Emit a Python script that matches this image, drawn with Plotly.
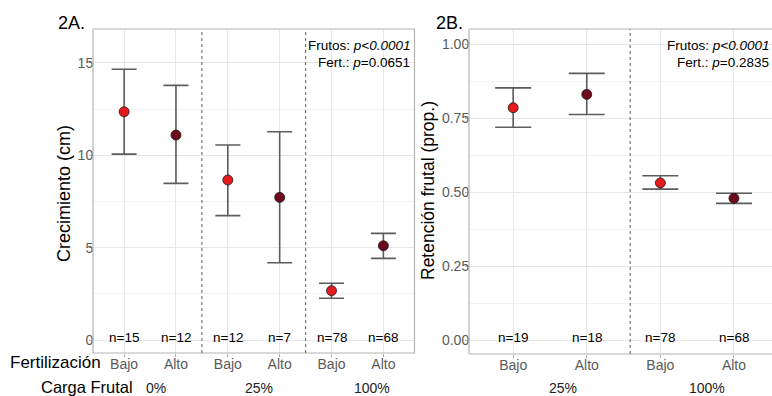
import plotly.graph_objects as go

# ---------------- data ----------------
# Panel 2A: Crecimiento (cm)
fert_A = ["Bajo", "Alto", "Bajo", "Alto", "Bajo", "Alto"]
carga_A = ["0%", "0%", "25%", "25%", "100%", "100%"]
mean_A = [12.35, 11.09, 8.66, 7.72, 2.67, 5.10]
upper_A = [14.65, 13.78, 10.55, 11.27, 3.07, 5.77]
lower_A = [10.06, 8.48, 6.73, 4.18, 2.26, 4.42]
n_A = [15, 12, 12, 7, 78, 68]
yticks_A = [0, 5, 10, 15]
yticklabels_A = ["0", "5", "10", "15"]

# Panel 2B: Retención frutal (prop.)
fert_B = ["Bajo", "Alto", "Bajo", "Alto"]
carga_B = ["25%", "25%", "100%", "100%"]
mean_B = [0.785, 0.830, 0.531, 0.479]
upper_B = [0.852, 0.901, 0.555, 0.496]
lower_B = [0.719, 0.762, 0.510, 0.462]
n_B = [19, 18, 78, 68]
yticks_B = [0, 0.25, 0.5, 0.75, 1.0]
yticklabels_B = ["0.00", "0.25", "0.50", "0.75", "1.00"]

colors = {"Bajo": "#E41A1C", "Alto": "#6E0A1E"}
FONT = "Liberation Sans, Arial, Helvetica, sans-serif"
W, H = 772, 396


def px(x):
    return x / W


def py(y):
    return 1 - y / H


fig = go.Figure()


def add_panel(fert, mean, upper, lower, xa, ya, capw):
    pos = list(range(1, len(fert) + 1))
    for level in ["Bajo", "Alto"]:
        idx = [i for i, f in enumerate(fert) if f == level]
        fig.add_trace(go.Scatter(
            x=[pos[i] for i in idx],
            y=[mean[i] for i in idx],
            mode="markers",
            xaxis=xa, yaxis=ya,
            showlegend=False,
            marker=dict(size=10, color=colors[level],
                        line=dict(color="#1a1a1a", width=0.8)),
            error_y=dict(type="data", symmetric=False,
                         array=[upper[i] - mean[i] for i in idx],
                         arrayminus=[mean[i] - lower[i] for i in idx],
                         color="#5c5c5c", thickness=1.6, width=capw),
        ))
    return pos


posA = add_panel(fert_A, mean_A, upper_A, lower_A, "x", "y", 12.5)
posB = add_panel(fert_B, mean_B, upper_B, lower_B, "x2", "y2", 18)

grid_major = "#e6e6e6"
grid_minor = "#f2f2f2"
tick_col = "#5a5a5a"
border = "#b3b3b3"

common_x = dict(showgrid=True, gridcolor=grid_major, gridwidth=0.8,
                zeroline=False, showline=False, ticks="outside", ticklen=3,
                ticklabelstandoff=-5,
                tickcolor=border, tickfont=dict(family=FONT, size=14, color=tick_col))
common_y = dict(showgrid=True, gridcolor=grid_major, gridwidth=0.8,
                zeroline=False, showline=False, ticks="outside", ticklen=3,
                ticklabelstandoff=-7,
                tickcolor=border, tickfont=dict(family=FONT, size=14, color=tick_col))

fig.update_layout(
    width=W, height=H, autosize=False,
    margin=dict(l=0, r=0, t=0, b=0),
    paper_bgcolor="white", plot_bgcolor="white",
    font=dict(family=FONT),
    xaxis=dict(domain=[px(93), px(414.5)], range=[0.4, 6.6],
               tickvals=posA, ticktext=fert_A, anchor="y", **common_x),
    yaxis=dict(domain=[py(353), py(29)], range=[-0.7, 16.83],
               tickvals=yticks_A, ticktext=yticklabels_A, anchor="x",
               minor=dict(dtick=2.5, tick0=0, showgrid=True, gridcolor=grid_minor,
                          gridwidth=0.6, ticks=""),
               **common_y),
    xaxis2=dict(domain=[px(469), 1.0], range=[0.4, 0.4 + (W - 469) / 73.6],
                tickvals=posB, ticktext=fert_B, anchor="y2", **common_x),
    yaxis2=dict(domain=[py(354), py(29)], range=[-0.047, 1.051],
                tickvals=yticks_B, ticktext=yticklabels_B, anchor="x2",
                minor=dict(dtick=0.125, tick0=0, showgrid=True, gridcolor=grid_minor,
                           gridwidth=0.6, ticks=""),
                **common_y),
)

shapes = []
# panel borders
shapes.append(dict(type="rect", xref="x domain", yref="y domain", x0=0, x1=1, y0=0, y1=1,
                   line=dict(color=border, width=1.2), layer="above"))
for (x0, y0, x1, y1) in [(0, 0, 0, 1), (0, 1, 1, 1), (0, 0, 1, 0)]:
    shapes.append(dict(type="line", xref="x2 domain", yref="y2 domain",
                       x0=x0, x1=x1, y0=y0, y1=y1,
                       line=dict(color=border, width=1.2), layer="above"))
# dotted group separators
for xv in [2.5, 4.5]:
    shapes.append(dict(type="line", xref="x", yref="y domain", x0=xv, x1=xv, y0=0, y1=1,
                       line=dict(color="#6a6a6a", width=1.1, dash="dot"), layer="above"))
shapes.append(dict(type="line", xref="x2", yref="y2 domain", x0=2.59, x1=2.59, y0=0, y1=1,
                   line=dict(color="#6a6a6a", width=1.1, dash="dot"), layer="above"))
fig.update_layout(shapes=shapes)

ann = []
# n labels
for p, n in zip(posA, n_A):
    ann.append(dict(x=p, y=0, xref="x", yref="y", text=f"n={n}", showarrow=False,
                    yshift=3, font=dict(family=FONT, size=13.5, color="black")))
for p, n in zip(posB, n_B):
    ann.append(dict(x=p, y=0, xref="x2", yref="y2", text=f"n={n}", showarrow=False,
                    yshift=3, font=dict(family=FONT, size=13.5, color="black")))

# p-value texts
pA = ["Frutos: <i>p&lt;0.0001</i>", "Fert.: <i>p</i>=0.0651"]
pB = ["Frutos: <i>p&lt;0.0001</i>", "Fert.: <i>p</i>=0.2835"]
for txt, yy in zip(pA, [45, 62]):
    ann.append(dict(x=px(411.5), y=py(yy), xref="paper", yref="paper", text=txt,
                    showarrow=False, xanchor="right", yanchor="middle",
                    font=dict(family=FONT, size=13.5, color="black")))
for txt, yy in zip(pB, [45, 62]):
    ann.append(dict(x=px(770.5), y=py(yy), xref="paper", yref="paper", text=txt,
                    showarrow=False, xanchor="right", yanchor="middle",
                    font=dict(family=FONT, size=13.5, color="black")))

# panel titles
ann.append(dict(x=px(56), y=py(23), xref="paper", yref="paper", text="2A.", showarrow=False,
                xanchor="left", yanchor="middle", font=dict(family=FONT, size=18, color="black")))
ann.append(dict(x=px(434), y=py(23), xref="paper", yref="paper", text="2B.", showarrow=False,
                xanchor="left", yanchor="middle", font=dict(family=FONT, size=18, color="black")))

# axis titles
ann.append(dict(x=px(64), y=py(194), xref="paper", yref="paper", text="Crecimiento (cm)",
                showarrow=False, textangle=-90, xanchor="center", yanchor="middle",
                font=dict(family=FONT, size=18, color="black")))
ann.append(dict(x=px(428), y=py(191), xref="paper", yref="paper", text="Retención frutal (prop.)",
                showarrow=False, textangle=-90, xanchor="center", yanchor="middle",
                font=dict(family=FONT, size=17.5, color="black")))

# row labels
ann.append(dict(x=px(8), y=py(362), xref="paper", yref="paper", text="Fertilización",
                showarrow=False, xanchor="left", yanchor="middle",
                font=dict(family=FONT, size=17, color="black")))
ann.append(dict(x=px(39), y=py(387), xref="paper", yref="paper", text="Carga Frutal",
                showarrow=False, xanchor="left", yanchor="middle",
                font=dict(family=FONT, size=16.5, color="black")))

# carga group labels
for txt, xc in zip(["0%", "25%", "100%"], [155.7, 259, 372]):
    ann.append(dict(x=px(xc), y=py(388), xref="paper", yref="paper", text=txt,
                    showarrow=False, xanchor="center", yanchor="middle",
                    font=dict(family=FONT, size=14, color="#222222")))
for txt, xc in zip(["25%", "100%"], [563, 707]):
    ann.append(dict(x=px(xc), y=py(388), xref="paper", yref="paper", text=txt,
                    showarrow=False, xanchor="center", yanchor="middle",
                    font=dict(family=FONT, size=14, color="#222222")))

fig.update_layout(annotations=ann)

fig.write_html("out.html", config={"displayModeBar": False},
               post_script="document.body.style.margin='0';document.body.style.padding='0';")
